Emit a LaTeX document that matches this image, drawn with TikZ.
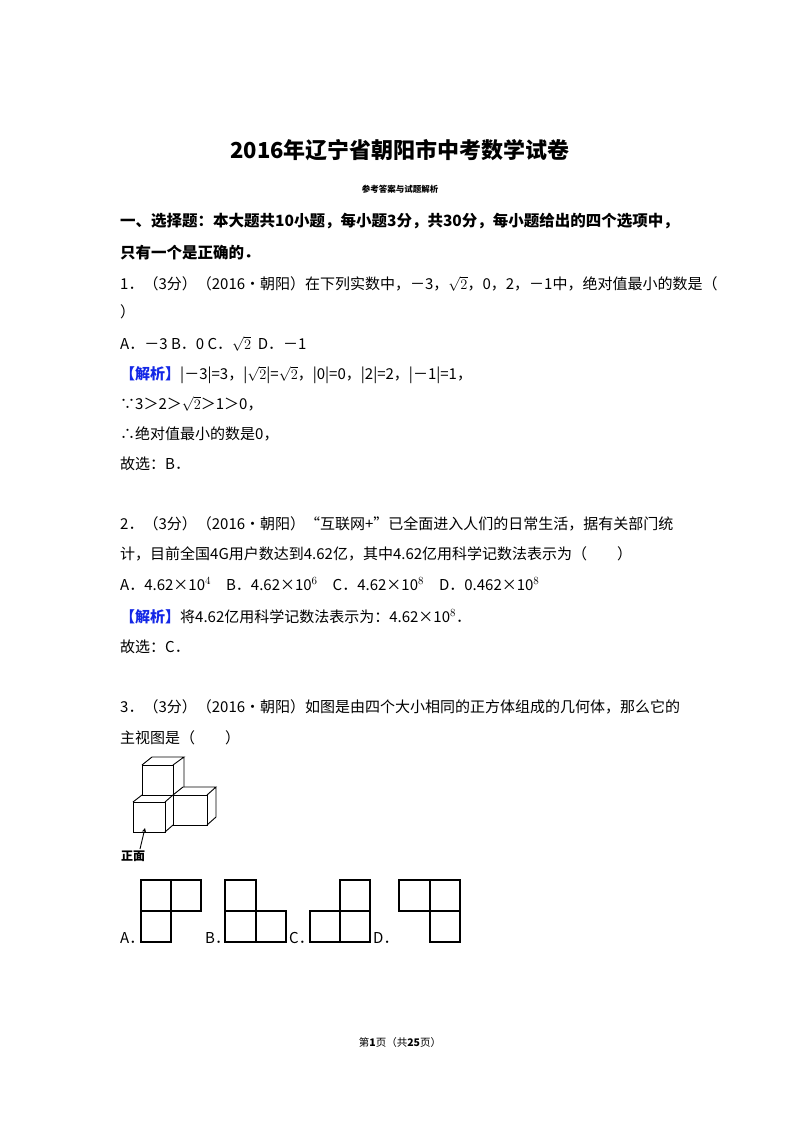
\documentclass[tikz,border=0pt]{standalone}
\usepackage{fontspec}
\setmainfont{Noto Sans CJK SC}
\begin{document}
\begin{tikzpicture}[x=1pt,y=-1pt,
 t/.style={anchor=base west,inner sep=0pt,font=\fontsize{15}{16}\selectfont},
 fig/.style={line width=0.9pt},
 sq/.style={line width=1.2pt}]
\useasboundingbox (0,0) rectangle (800,1132);
\definecolor{jx}{RGB}{20,40,230}
\node[anchor=base,inner sep=0pt,font=\fontsize{22}{24}\selectfont\bfseries] (title) at (400,158) {2016年辽宁省朝阳市中考数学试卷};
\node[anchor=base,inner sep=0pt,font=\fontsize{8.5}{10}\selectfont\bfseries] (sub) at (400,192) {参考答案与试题解析};
\node[t,font=\fontsize{15.5}{17}\selectfont\bfseries] (h1) at (120,226) {一、选择题：本大题共10小题，每小题3分，共30分，每小题给出的四个选项中，};
\node[t,font=\fontsize{15.5}{17}\selectfont\bfseries] (h2) at (120,258) {只有一个是正确的．};
\node[t] (q1) at (120,289) {1．（3分）（2016•朝阳）在下列实数中，－3，$\sqrt{2}$，0，2，－1中，绝对值最小的数是（};
\node[t] (q1b) at (120,317) {）};
\node[t] (q1c) at (120,349) {A．－3 B．0 C．$\sqrt{2}$\ \ D．－1};
\node[t] (q1d) at (120,379) {\textcolor{jx}{\bfseries【解析】}|－3|=3，|$\sqrt{2}$|=$\sqrt{2}$，|0|=0，|2|=2，|－1|=1，};
\node[t] (q1e) at (120,409) {∵3＞2＞$\sqrt{2}$＞1＞0，};
\node[t] (q1f) at (120,439) {∴绝对值最小的数是0，};
\node[t] (q1g) at (120,469) {故选：B．};
\node[t] (q2) at (120,529) {2．（3分）（2016•朝阳）“互联网+”已全面进入人们的日常生活，据有关部门统};
\node[t] (q2b) at (120,559) {计，目前全国4G用户数达到4.62亿，其中4.62亿用科学记数法表示为（\qquad）};
\node[t] (q2c) at (120,590) {A．4.62×10$^{4}$\quad B．4.62×10$^{6}$\quad C．4.62×10$^{8}$\quad D．0.462×10$^{8}$};
\node[t] (q2d) at (120,622) {\textcolor{jx}{\bfseries【解析】}将4.62亿用科学记数法表示为：4.62×10$^{8}$．};
\node[t] (q2e) at (120,652) {故选：C．};
\node[t] (q3) at (120,712) {3．（3分）（2016•朝阳）如图是由四个大小相同的正方体组成的几何体，那么它的};
\node[t] (q3b) at (120,743) {主视图是（\qquad）};
% cube figure
\draw[fig] (142,765) rectangle (173,795);
\draw[fig] (142,765) -- (152,757) -- (184,757) -- (173,765) (184,757) -- (184,787);
\draw[fig] (173,795) rectangle (207,825);
\draw[fig] (173,795) -- (183,787) -- (216,787) -- (207,795) (216,787) -- (216,817) -- (207,825);
\draw[fig] (133,802) rectangle (165,832);
\draw[fig] (133,802) -- (142,795) (165,802) -- (173,795) (165,832) -- (173,825);
\coordinate (af) at (140,849);
\coordinate (at) at (145,828);
\draw[fig,-stealth] (af) -- (at);
\node[anchor=base west,inner sep=0pt,font=\fontsize{12}{14}\selectfont\bfseries] (zm) at (121,860) {正面};
% options
\node[t] (la) at (120,943) {A．};
\node[t] (lb) at (205,943) {B．};
\node[t] (lc) at (289,943) {C．};
\node[t] (ld) at (373,943) {D．};
\draw[sq] (141,880) rectangle (171,911) (171,880) rectangle (201,911) (141,911) rectangle (171,942);
\draw[sq] (225,880) rectangle (256,911) (225,911) rectangle (256,942) (256,911) rectangle (286,942);
\draw[sq] (340,880) rectangle (370,911) (310,911) rectangle (340,942) (340,911) rectangle (370,942);
\draw[sq] (399,880) rectangle (430,911) (430,880) rectangle (460,911) (430,911) rectangle (460,942);
\node[anchor=base,inner sep=0pt,font=\fontsize{10.5}{12}\selectfont] (foot) at (400,1046) {第\textbf{1}页（共\textbf{25}页）};
\end{tikzpicture}
\end{document}
